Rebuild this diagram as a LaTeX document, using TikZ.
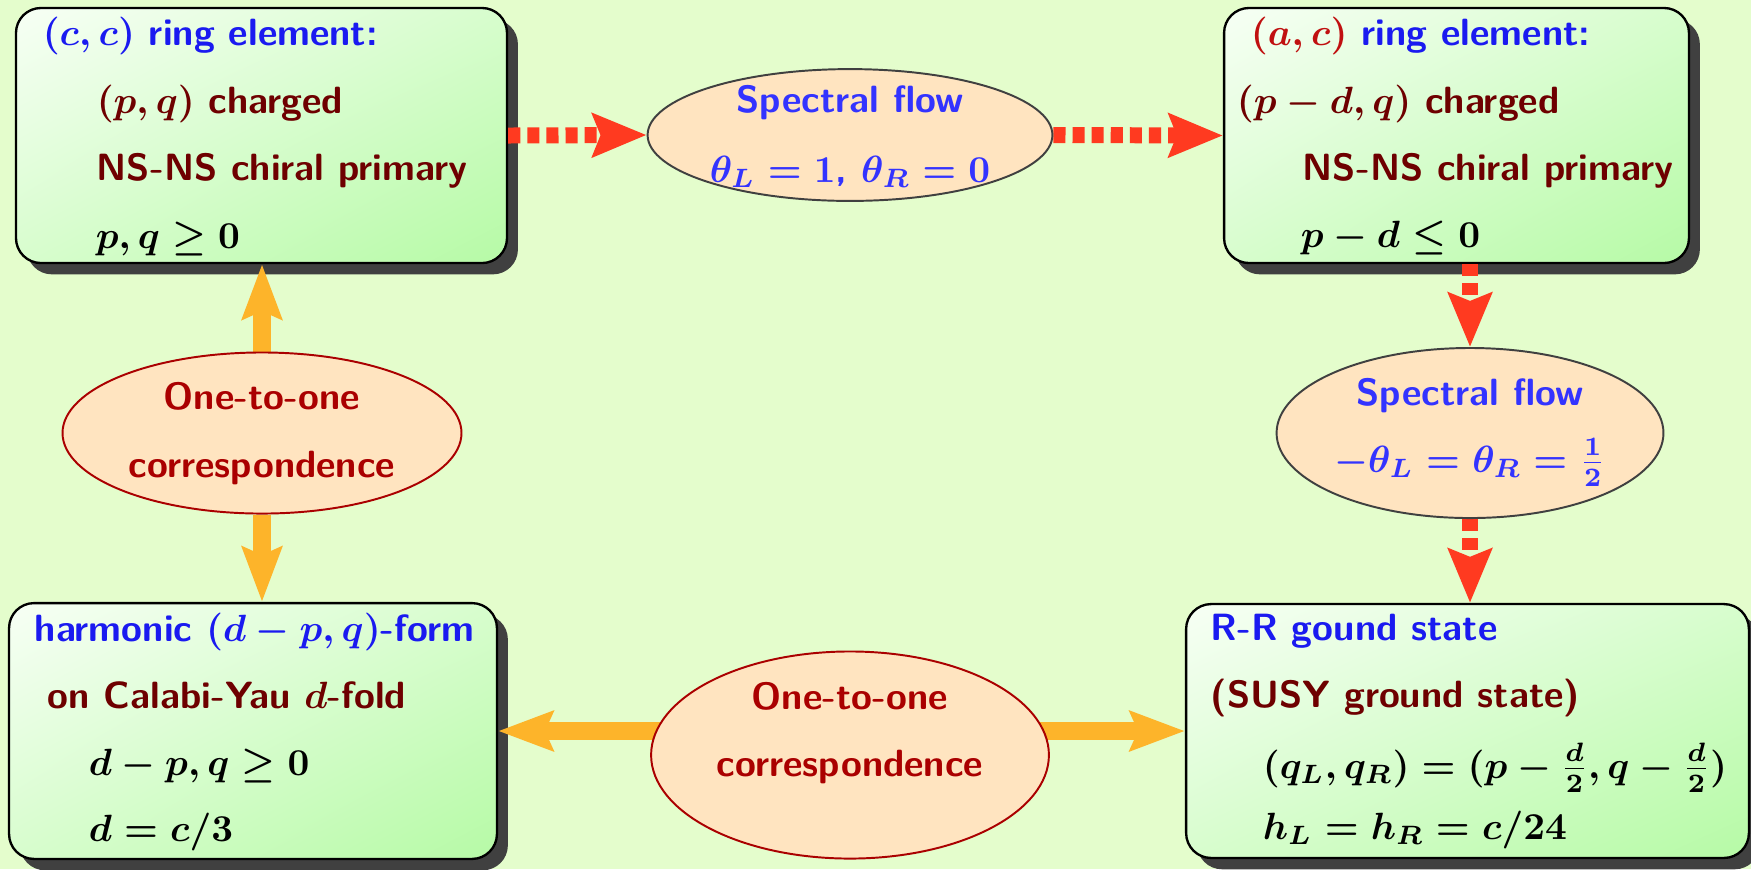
\documentclass[tikz,border=0pt]{standalone}
\usetikzlibrary{arrows.meta,shapes.geometric,shadows,shadings}
\definecolor{bgc}{RGB}{228,253,204}
\definecolor{boxa}{RGB}{247,255,245}
\definecolor{boxb}{RGB}{215,253,205}
\definecolor{boxc}{RGB}{182,250,166}
\definecolor{shadowc}{RGB}{64,64,64}
\definecolor{hblue}{RGB}{26,26,240}
\definecolor{eblue}{RGB}{51,51,255}
\definecolor{maroon}{RGB}{110,0,0}
\definecolor{acred}{RGB}{192,16,16}
\definecolor{cred}{RGB}{170,0,0}
\definecolor{peach}{RGB}{255,228,192}
\definecolor{arrred}{RGB}{255,58,32}
\definecolor{arrorange}{RGB}{253,180,42}
\pgfdeclarelayer{bg}\pgfdeclarelayer{fg}\pgfsetlayers{bg,main,fg}
\begin{document}
\begin{tikzpicture}[x=0.25641pt,y=-0.25641pt,font=\sffamily\bfseries\boldmath,
  box/.style={rectangle,rounded corners=6.4pt,draw=black,line width=0.6pt,inner sep=0pt,
    upper left=boxa,upper right=boxb,lower left=boxb,lower right=boxc,
    drop shadow={shadow xshift=2.8pt,shadow yshift=-2.9pt,fill=shadowc,opacity=1}},
  ell/.style={ellipse,fill=peach,line width=0.5pt,inner sep=0pt},
  sfell/.style={ell,draw=shadowc},
  ccell/.style={ell,draw=cred},
  txt/.style={anchor=base west,inner sep=0pt,scale=0.973},
  ctxt/.style={anchor=base,inner sep=0pt,scale=0.973},
  redarr/.style={draw=arrred,line width=4.1pt,dash pattern=on 3.1pt off 1.8pt,
    -{Stealth[length=13.8pt,width=11pt,inset=2pt]}},
  orarr/.style={draw=arrorange,line width=4.4pt,
    -{Stealth[length=14pt,width=10pt,inset=2pt]}}]
\useasboundingbox (0,0) rectangle (1751,869);
\begin{pgfonlayer}{bg}
\fill[bgc] (0,0) rectangle (1751,869);
\node[box,minimum width=125.9pt,minimum height=65.4pt] (tl) at (261.5,135.5) {};
\node[box,minimum width=119.2pt,minimum height=65.4pt] (tr) at (1456.5,135.5) {};
\node[box,minimum width=125.1pt,minimum height=65.6pt] (bl) at (253,731) {};
\node[box,minimum width=144.3pt,minimum height=65.1pt] (br) at (1467.5,731) {};
\end{pgfonlayer}
\begin{pgfonlayer}{fg}
\node[sfell,minimum width=103.8pt,minimum height=33.8pt] (sf1) at (850,135) {};
\node[sfell,minimum width=99.2pt,minimum height=43.6pt] (sf2) at (1470,433) {};
\node[ccell,minimum width=102.3pt,minimum height=41.3pt] (cc1) at (262,433) {};
\node[ccell,minimum width=102.0pt,minimum height=53.1pt] (cc2) at (850,755) {};
% box texts
\node[txt,text=hblue] (tl1) at (42,45) {$(c,c)$ ring element:};
\node[txt,text=maroon] (tl2) at (96,113) {$(p,q)$ charged};
\node[txt,text=maroon] (tl3) at (96,180) {NS-NS chiral primary};
\node[txt,text=black] (tl4) at (95,248) {$p,q\geq 0$};
\node[txt,text=hblue] (tr1) at (1250,45) {{\color{acred}$(a,c)$} ring element:};
\node[txt,text=maroon] (tr2) at (1236,113) {$(p-d,q)$ charged};
\node[txt,text=maroon] (tr3) at (1302,180) {NS-NS chiral primary};
\node[txt,text=black] (tr4) at (1300,247) {$p-d\leq 0$};
\node[txt,text=hblue] (bl1) at (34,641) {harmonic $(d-p,q)$-form};
\node[txt,text=maroon] (bl2) at (47,708) {on Calabi-Yau $d$-fold};
\node[txt,text=black] (bl3) at (88,775) {$d-p,q\geq 0$};
\node[txt,text=black] (bl4) at (88,841) {$d=c/3$};
\node[txt,text=hblue] (br1) at (1210,640) {R-R gound state};
\node[txt,text=maroon] (br2) at (1210,707) {(SUSY ground state)};
\node[txt,text=black] (br3) at (1262,778) {$(q_L,q_R)=(p-\frac{d}{2},q-\frac{d}{2})$};
\node[txt,text=black] (br4) at (1262,839) {$h_L=h_R=c/24$};
% ellipse texts
\node[ctxt,text=eblue] (sf1a) at (850,112) {Spectral flow};
\node[ctxt,text=eblue] (sf1b) at (850,182) {$\theta_L=1$, $\theta_R=0$};
\node[ctxt,text=eblue] (sf2a) at (1470,405) {Spectral flow};
\node[ctxt,text=eblue] (sf2b) at (1470,472) {$-\theta_L=\theta_R=\frac12$};
\node[ctxt,text=cred] (cc1a) at (262,409) {One-to-one};
\node[ctxt,text=cred] (cc1b) at (262,477) {correspondence};
\node[ctxt,text=cred] (cc2a) at (850,709) {One-to-one};
\node[ctxt,text=cred] (cc2b) at (850,776) {correspondence};
\end{pgfonlayer}
% connectors
\draw[redarr] (tl.east) -- (sf1.west);
\draw[redarr] (sf1.east) -- (tr.west);
\draw[redarr] (sf2.north |- tr.south) -- (sf2.north);
\draw[redarr] (sf2.south) -- (sf2.south |- br.north);
\draw[orarr] (cc1.north) -- (cc1.north |- tl.south);
\draw[orarr] (cc1.south) -- (cc1.south |- bl.north);
\draw[orarr] (cc2.center |- bl.east) -- (bl.east);
\draw[orarr] (cc2.center |- br.west) -- (br.west);
\end{tikzpicture}
\end{document}
